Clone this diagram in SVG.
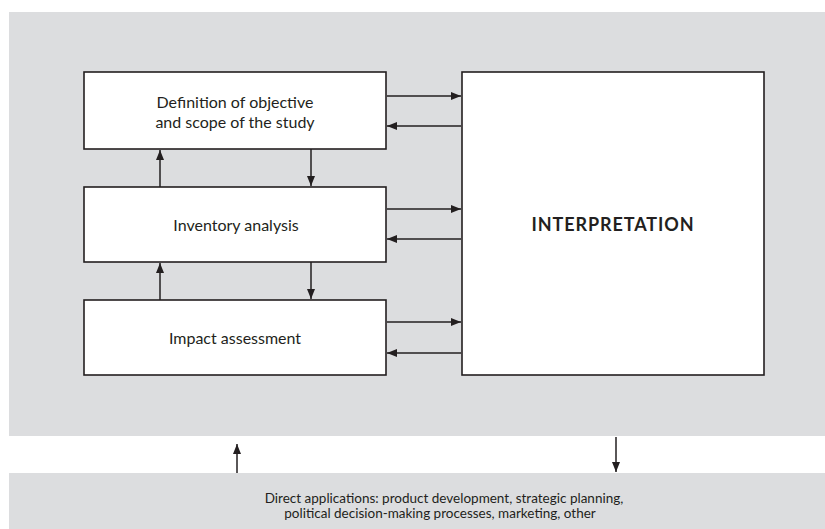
<svg xmlns="http://www.w3.org/2000/svg" width="825" height="529" viewBox="0 0 825 529">
  <style>
    .panel { fill: #dcdddf; }
    .box { fill: #ffffff; stroke: #231f20; stroke-width: 1.6; }
    .lbl { font-family: Lato, "Open Sans", "Liberation Sans", sans-serif; font-size: 16px; fill: #231f20; text-anchor: middle; }
    .title { font-family: Lato, "Open Sans", "Liberation Sans", sans-serif; font-size: 18px; font-weight: bold; fill: #231f20; text-anchor: middle; letter-spacing: 0.9px; }
    .note { font-family: Lato, "Open Sans", "Liberation Sans", sans-serif; font-size: 13.5px; fill: #231f20; text-anchor: middle; }
    .link { stroke: #231f20; stroke-width: 1.5; fill: none; marker-end: url(#head); }
  </style>
  <defs>
    <marker id="head" viewBox="0 0 10 8" refX="10" refY="4" markerWidth="10" markerHeight="8" markerUnits="userSpaceOnUse" orient="auto">
      <path d="M0,0 L10,4 L0,8 Z" fill="#231f20"/>
    </marker>
  </defs>

  <rect width="825" height="529" fill="#ffffff"/>

  <!-- framework panel -->
  <rect class="panel" x="9" y="12" width="816" height="424"/>
  <!-- applications panel -->
  <rect class="panel" x="9" y="473" width="816" height="56"/>

  <g id="goal">
    <rect class="box" x="84" y="72" width="302" height="77"/>
    <text class="lbl" x="235" y="108">Definition of objective</text>
    <text class="lbl" x="235" y="128">and scope of the study</text>
  </g>

  <g id="inventory">
    <rect class="box" x="84" y="187" width="302" height="75"/>
    <text class="lbl" x="236" y="231">Inventory analysis</text>
  </g>

  <g id="impact">
    <rect class="box" x="84" y="300" width="302" height="75"/>
    <text class="lbl" x="235" y="344">Impact assessment</text>
  </g>

  <g id="interpretation">
    <rect class="box" x="462" y="72" width="302" height="303"/>
    <text class="title" x="613" y="231">INTERPRETATION</text>
  </g>

  <g id="applications">
    <text class="note" x="444" y="503">Direct applications: product development, strategic planning,</text>
    <text class="note" x="440" y="518">political decision-making processes, marketing, other</text>
  </g>

  <g id="connectors">
    <!-- phases to interpretation and back -->
    <line class="link" x1="387" y1="96" x2="461" y2="96"/>
    <line class="link" x1="461" y1="126" x2="387" y2="126"/>
    <line class="link" x1="387" y1="209" x2="461" y2="209"/>
    <line class="link" x1="461" y1="239" x2="387" y2="239"/>
    <line class="link" x1="387" y1="322" x2="461" y2="322"/>
    <line class="link" x1="461" y1="353" x2="387" y2="353"/>
    <!-- between phases -->
    <line class="link" x1="160" y1="187" x2="160" y2="150"/>
    <line class="link" x1="311" y1="149" x2="311" y2="186"/>
    <line class="link" x1="160" y1="300" x2="160" y2="263"/>
    <line class="link" x1="311" y1="262" x2="311" y2="299"/>
    <!-- framework and applications -->
    <line class="link" x1="237" y1="473" x2="237" y2="444"/>
    <line class="link" x1="616" y1="437" x2="616" y2="472"/>
  </g>
</svg>
